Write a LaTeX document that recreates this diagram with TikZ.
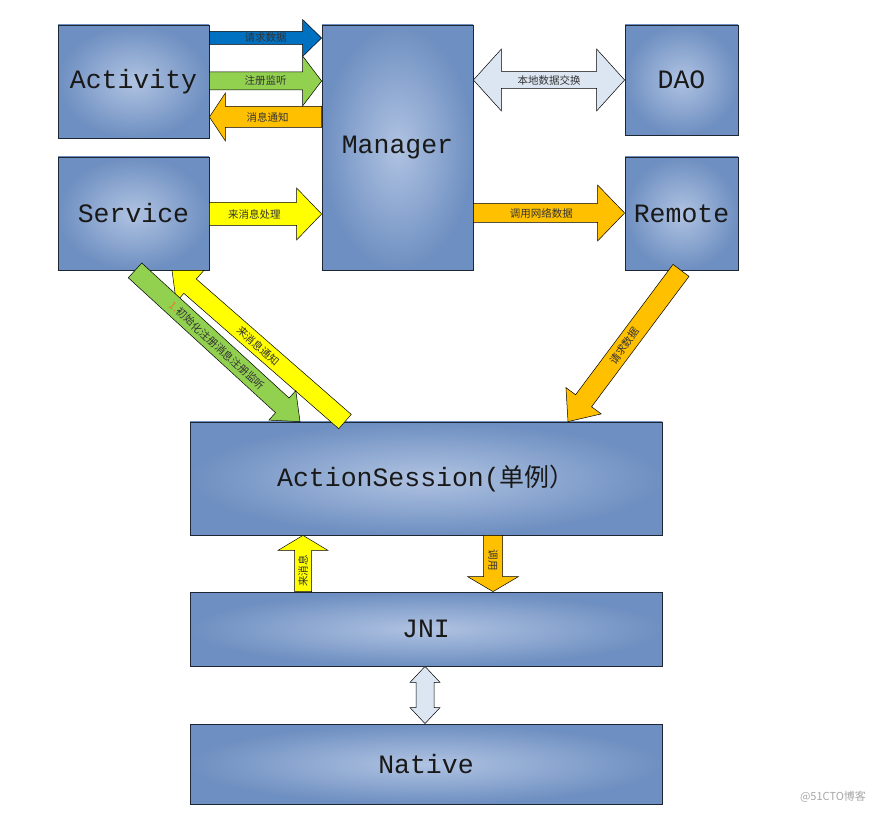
\documentclass[tikz,border=0pt]{standalone}
\usepackage{fontspec}
\usepackage{xcolor}
\usepackage{tikz}
\usetikzlibrary{shapes,arrows,calc}
\newfontfamily\cjk{Noto Sans CJK SC}
\newfontfamily\boxfont{Liberation Mono}

\definecolor{boxout}{RGB}{110,143,193}
\definecolor{boxin}{RGB}{176,195,226}
\definecolor{boxline}{RGB}{30,38,52}
\definecolor{arrblue}{RGB}{0,112,192}
\definecolor{arrgreen}{RGB}{146,208,80}
\definecolor{arrorange}{RGB}{255,192,0}
\definecolor{arryellow}{RGB}{255,255,0}
\definecolor{arrlight}{RGB}{220,230,242}
\definecolor{numorange}{RGB}{230,120,40}

\tikzset{
  box/.style={draw=boxline,line width=0.8pt,inner color=boxin,outer color=boxout,
    font=\boxfont\fontsize{26.5}{30}\selectfont,text=black!90},
  barr/.style={draw=black,line width=0.5pt,fill=#1},
  lbl/.style={font=\cjk\fontsize{10.5}{12}\selectfont,text=black!80,inner sep=0pt}
}

% block arrow: [style]{from}{to}{shaft half}{head half}{head length}
\newcommand{\blockarrow}[6][]{%
  \coordinate (ba-c) at ($(#3)!#6!(#2)$);
  \draw[#1] ($(#2)!#4!90:(#3)$) -- ($(ba-c)!#4!90:(#3)$) -- ($(ba-c)!#5!90:(#3)$) -- (#3)
    -- ($(ba-c)!#5!-90:(#3)$) -- ($(ba-c)!#4!-90:(#3)$) -- ($(#2)!#4!-90:(#3)$) -- cycle;}
% double block arrow, same arguments
\newcommand{\dblockarrow}[6][]{%
  \coordinate (dba-a) at ($(#2)!#6!(#3)$);
  \coordinate (dba-b) at ($(#3)!#6!(#2)$);
  \draw[#1] (#2) -- ($(dba-a)!#5!90:(#3)$) -- ($(dba-a)!#4!90:(#3)$) -- ($(dba-b)!#4!90:(#3)$)
    -- ($(dba-b)!#5!90:(#3)$) -- (#3) -- ($(dba-b)!#5!-90:(#3)$) -- ($(dba-b)!#4!-90:(#3)$)
    -- ($(dba-a)!#4!-90:(#3)$) -- ($(dba-a)!#5!-90:(#3)$) -- cycle;}

\begin{document}
\begin{tikzpicture}[x=1pt,y=1pt]
\useasboundingbox (0,0) rectangle (890,814);

\node[box,minimum width=151pt,minimum height=113pt] (act) at (133.5,732.5) {Activity};
\node[box,minimum width=151pt,minimum height=113pt] (srv) at (133.5,600.5) {Service};
\node[box,minimum width=151pt,minimum height=245pt] (mgr) at (397.5,666.5) {Manager};
\node[box,minimum width=113pt,minimum height=110pt] (dao) at (681.5,734) {DAO};
\node[box,minimum width=113pt,minimum height=113pt] (rem) at (681.5,600.5) {Remote};
\node[box,minimum width=472pt,minimum height=113pt] (ses) at (426,335.5) {ActionSession({\cjk\fontsize{25}{30}\selectfont 单例）}};
\node[box,minimum width=472pt,minimum height=74pt] (jni) at (426,185) {JNI};
\node[box,minimum width=472pt,minimum height=80pt] (nat) at (426,50) {Native};

% Activity <-> Manager
\coordinate (b1s) at (act.east |- 0,776);
\coordinate (b1e) at (mgr.west |- 0,776);
\blockarrow[barr=arrblue]{b1s}{b1e}{6.5pt}{18.5pt}{19pt}
\path (b1s) -- (b1e) node[lbl,pos=.5] (t1) {请求数据};
\coordinate (b3s) at (mgr.west |- 0,697);
\coordinate (b3e) at (act.east |- 0,697);
\blockarrow[barr=arrorange]{b3s}{b3e}{10.5pt}{24pt}{16pt}
\path (b3s) -- (b3e) node[lbl,pos=.48] (t3) {消息通知};
\coordinate (b2s) at (act.east |- 0,733);
\coordinate (b2e) at (mgr.west |- 0,733);
\blockarrow[barr=arrgreen]{b2s}{b2e}{9pt}{25pt}{19pt}
\path (b2s) -- (b2e) node[lbl,pos=.5] (t2) {注册监听};

% Manager <-> DAO / Remote
\coordinate (d1s) at (mgr.east |- 0,734);
\coordinate (d1e) at (dao.west |- 0,734);
\dblockarrow[barr=arrlight]{d1s}{d1e}{8.5pt}{31pt}{28pt}
\path (d1s) -- (d1e) node[lbl,pos=.5] (t4) {本地数据交换};
\coordinate (b5s) at (srv.east |- 0,600);
\coordinate (b5e) at (mgr.west |- 0,600);
\blockarrow[barr=arryellow]{b5s}{b5e}{11.5pt}{26pt}{25pt}
\path (b5s) -- (b5e) node[lbl,pos=.4] (t5) {来消息处理};
\coordinate (b6s) at (mgr.east |- 0,601);
\coordinate (b6e) at (rem.west |- 0,601);
\blockarrow[barr=arrorange]{b6s}{b6e}{9.5pt}{28pt}{27pt}
\path (b6s) -- (b6e) node[lbl,pos=.45] (t6) {调用网络数据};

% diagonals
\coordinate (y1s) at (ses.north -| 345,0);
\coordinate (y1e) at (srv.south -| 172,0);
\blockarrow[barr=arryellow]{y1s}{y1e}{9.5pt}{21pt}{24pt}
\path (y1s) -- (y1e) node[lbl,sloped,pos=.5] (t7) {来消息通知};
\coordinate (g1s) at (srv.south -| 135,0);
\coordinate (g1e) at (ses.north -| 300,0);
\blockarrow[barr=arrgreen]{g1s}{g1e}{10pt}{20pt}{24pt}
\path (g1s) -- (g1e) node[lbl,sloped,pos=.5] (t8) {{\color{numorange}1.}初始化注册消息注册监听};
\coordinate (o1s) at (rem.south -| 681,0);
\coordinate (o1e) at (ses.north -| 568,0);
\blockarrow[barr=arrorange]{o1s}{o1e}{10pt}{22pt}{26pt}
\path (o1s) -- (o1e) node[lbl,sloped,pos=.5] (t9) {请求数据};

% ActionSession <-> JNI <-> Native
\coordinate (v1s) at (jni.north -| 303,0);
\coordinate (v1e) at (ses.south -| 303,0);
\blockarrow[barr=arryellow]{v1s}{v1e}{8.5pt}{25pt}{15pt}
\path (v1s) -- (v1e) node[lbl,sloped,pos=.37] (t10) {来消息};
\coordinate (v2s) at (ses.south -| 493,0);
\coordinate (v2e) at (jni.north -| 493,0);
\blockarrow[barr=arrorange]{v2s}{v2e}{9.5pt}{25.5pt}{15pt}
\path (v2s) -- (v2e) node[lbl,sloped,pos=.44] (t11) {调用};
\coordinate (v3s) at (jni.south -| 425,0);
\coordinate (v3e) at (nat.north -| 425,0);
\dblockarrow[barr=arrlight]{v3s}{v3e}{9pt}{15pt}{16pt}

\node[font=\cjk\fontsize{11}{13}\selectfont,text=black!35] (wm) at (833,17) {@51CTO博客};

\end{tikzpicture}
\end{document}
